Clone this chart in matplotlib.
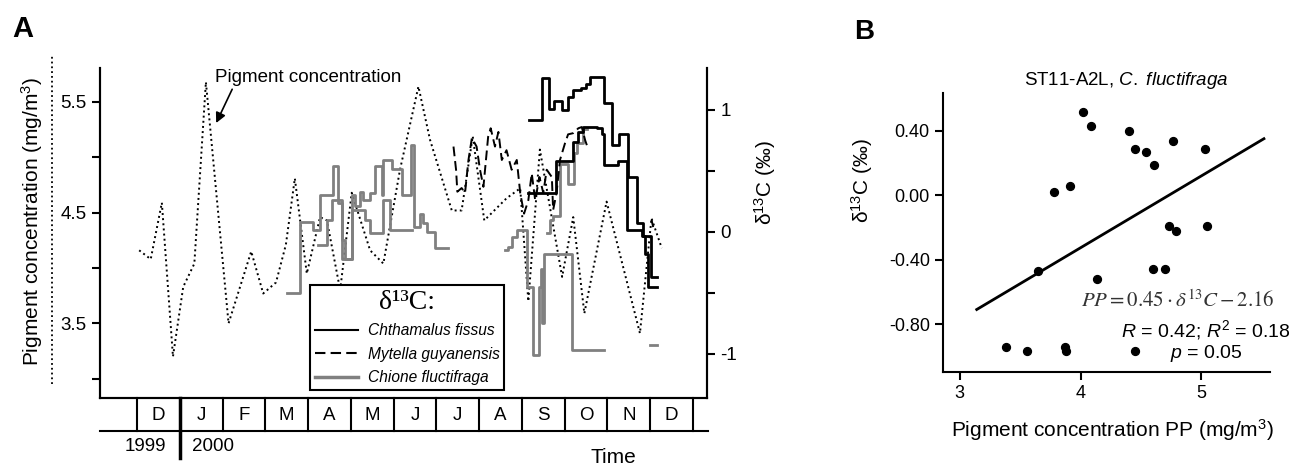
import numpy as np
import matplotlib.pyplot as plt
from matplotlib.lines import Line2D

plt.rcParams['font.family'] = ['Liberation Sans', 'DejaVu Sans']
plt.rcParams['mathtext.fontset'] = 'custom'
plt.rcParams['mathtext.rm'] = 'Liberation Sans'
plt.rcParams['mathtext.it'] = 'Liberation Sans:italic'

# ---- Panel A data (x = months since 1 Dec 1999) ----
months = ['D', 'J', 'F', 'M', 'A', 'M', 'J', 'J', 'A', 'S', 'O', 'N', 'D']
years = ['1999', '2000']

pig_t = [0.05, 0.32, 0.58, 0.84, 1.08, 1.34, 1.61, 2.14, 2.67, 2.95, 3.25, 3.48, 3.69,
         3.97, 4.28, 4.44, 4.75, 5.02, 5.45, 5.76, 6.15, 6.58, 6.85, 7.36, 7.59, 7.85,
         8.12, 8.64, 8.96, 9.15, 9.42, 9.94, 10.20, 10.46, 10.98, 11.76, 12.03, 12.27]
pig_v = [4.16, 4.08, 4.59, 3.20, 3.83, 4.04, 5.68, 3.50, 4.15, 3.77, 3.87, 4.21, 4.81,
         3.95, 4.46, 4.43, 3.80, 4.68, 4.16, 4.04, 4.89, 5.64, 5.16, 4.52, 4.52, 5.19,
         4.43, 4.63, 4.72, 3.70, 5.07, 3.92, 4.46, 3.59, 4.60, 3.41, 4.45, 4.18]

# Chthamalus fissus (two records)
cht1_t = [9.17, 9.46, 9.63, 9.74, 9.93, 10.08, 10.20, 10.37, 10.51, 10.59, 10.93,
          11.11, 11.27, 11.47, 11.70, 11.84, 12.01, 12.15]
cht1_v = [0.92, 1.26, 1.01, 1.07, 1.00, 1.11, 1.16, 1.18, 1.21, 1.27, 1.06,
          0.71, 0.80, 0.45, 0.07, -0.03, -0.37, -0.37]
cht2_t = [9.15, 9.80, 10.20, 10.32, 10.43, 10.75, 10.87, 10.93, 11.25, 11.46, 11.80,
          11.88, 11.96, 12.15]
cht2_v = [0.32, 0.58, 0.74, 0.82, 0.86, 0.85, 0.80, 0.55, 0.58, 0.02, -0.03,
          -0.18, -0.45, -0.45]

# Mytella guyanensis
myt_t = [7.40, 7.46, 7.49, 7.59, 7.67, 7.75, 7.83, 7.94, 8.02, 8.10, 8.21, 8.27, 8.37,
         8.45, 8.53, 8.64, 8.76, 8.88, 8.96, 9.05, 9.15, 9.23, 9.31, 9.41, 9.50, 9.58,
         9.70, 9.73, 9.81, 9.89, 10.01, 10.08, 10.20, 10.32, 10.40, 10.48, 10.52,
         np.nan, 12.03, 12.07]
myt_v = [0.70, 0.51, 0.33, 0.36, 0.32, 0.59, 0.77, 0.70, 0.51, 0.37, 0.78, 0.85, 0.70,
         0.82, 0.59, 0.67, 0.51, 0.59, 0.32, 0.15, 0.26, 0.48, 0.26, 0.45, 0.32, 0.51,
         0.45, 0.18, 0.32, 0.59, 0.73, 0.80, 0.81, 0.85, 0.86, 0.75, 0.71,
         np.nan, 0.10, 0.04]

# Chione fluctifraga (several records)
chi1_t = [3.50, 3.81, 4.12, 4.28, 4.59, 4.71, 4.79, 5.02, 5.10, 5.21, 5.29, 5.45, 5.57,
          5.72, 5.76, 5.96, 6.19, 6.40, 6.48, 6.62, 6.69, 6.77, 6.97, 7.28]
chi1_v = [-0.50, 0.08, 0.02, 0.30, 0.54, 0.24, -0.22, 0.30, 0.21, 0.33, 0.26, 0.32, 0.54,
          0.30, 0.59, 0.52, 0.30, 0.71, 0.04, 0.15, 0.07, 0.00, -0.13, -0.13]
chi2_t = [4.24, 4.44, 4.55, 4.79, 4.86, 5.02, 5.33, 5.45, 5.76, 5.92, 6.42]
chi2_v = [-0.11, 0.10, 0.26, -0.07, -0.22, 0.18, 0.10, -0.01, 0.26, 0.02, 0.02]
chi3_t = [8.60, 8.68, 8.76, 8.88, 9.13, 9.27, 9.41, 9.44, 9.48, 9.52, 10.16, 10.92,
          np.nan, 12.00, 12.15]
chi3_v = [-0.15, -0.12, -0.04, 0.02, -0.45, -1.01, -0.45, -0.30, -0.75, -0.18, -0.97, -0.97,
          np.nan, -0.93, -0.93]
chi4_t = [9.58, 9.66, 9.73, 9.89, 10.08, 10.22, 10.28, 10.44, 10.52]
chi4_v = [-0.01, 0.10, 0.13, 0.56, 0.39, 0.65, 0.73, 0.84, 0.84]

# ---- Panel B data ----
pp = [4.02, 4.09, 3.78, 3.91, 4.40, 4.45, 4.54, 4.61, 4.77, 5.03, 4.73, 4.79, 5.05,
      3.65, 4.14, 4.60, 4.70, 3.38, 3.56, 3.87, 3.88, 4.45]
d13 = [0.52, 0.43, 0.02, 0.06, 0.40, 0.29, 0.27, 0.19, 0.34, 0.29, -0.19, -0.22, -0.19,
       -0.47, -0.52, -0.46, -0.46, -0.94, -0.97, -0.94, -0.97, -0.97]
fit_slope = 0.446
fit_intercept = -2.11
fit_x = np.array([3.14, 5.52])

fig = plt.figure(figsize=(12.91, 4.68), dpi=100)

# ================= Panel A =================
ax = fig.add_axes([0.0775, 0.1496, 0.4702, 0.7051])
ax2 = ax.twinx()

ax.plot(pig_t, pig_v, color='black', linestyle=':', linewidth=1.4)
ax.set_xlim(-0.865, 13.33)
ax.set_ylim(2.826, 5.807)
ax.set_yticks([3.0, 3.5, 4.0, 4.5, 5.0, 5.5])
ax.set_yticklabels(['', '3.5', '', '4.5', '', '5.5'])
ax.set_xticks([])
ax.spines['top'].set_visible(False)
for s in ['left', 'bottom', 'right']:
    ax.spines[s].set_linewidth(1.5)
ax.tick_params(axis='y', labelsize=13.5, width=1.5, length=6)

ax2.plot(chi1_t, chi1_v, color='#808080', linewidth=2, drawstyle='steps-post')
ax2.plot(chi2_t, chi2_v, color='#808080', linewidth=2, drawstyle='steps-post')
ax2.plot(chi3_t, chi3_v, color='#808080', linewidth=2, drawstyle='steps-post')
ax2.plot(chi4_t, chi4_v, color='#808080', linewidth=2, drawstyle='steps-post')
ax2.plot(myt_t, myt_v, color='black', linewidth=1.4, dashes=(5, 2.5))
ax2.plot(cht1_t, cht1_v, color='black', linewidth=2, drawstyle='steps-post')
ax2.plot(cht2_t, cht2_v, color='black', linewidth=2, drawstyle='steps-post')
ax2.set_ylim(-1.361, 1.344)
ax2.set_yticks([-1, -0.5, 0, 0.5, 1])
ax2.set_yticklabels(['-1', '', '0', '', '1'])
ax2.spines['top'].set_visible(False)
for s in ['left', 'bottom', 'right']:
    ax2.spines[s].set_linewidth(1.5)
ax2.tick_params(axis='y', labelsize=13.5, width=1.5, length=6)

# axis labels
ax.text(-0.112, 0.536, 'Pigment concentration (mg/m$^3$)', transform=ax.transAxes,
        rotation=90, ha='center', va='center', fontsize=15)
ax.plot([-0.079, -0.079], [0.042, 1.039], transform=ax.transAxes, clip_on=False,
        color='black', linestyle=':', linewidth=1.3)
ax2.text(1.096, 0.652, 'δ$^{13}$C (‰)', transform=ax2.transAxes, rotation=90,
         ha='center', va='center', fontsize=15)

# annotation
ax.annotate('Pigment concentration', xy=(1.85, 5.31), xytext=(1.82, 5.717),
            ha='left', va='center', fontsize=13.5,
            arrowprops=dict(arrowstyle='-|>', color='black', lw=1.2,
                            shrinkA=0, shrinkB=0, mutation_scale=15,
                            relpos=(0.1, 0.0)))

# month table below axis
trans = ax.get_xaxis_transform()
for k in range(len(months) + 1):
    lw = 2.5 if k == 1 else 1.5
    y_end = -0.182 if k == 1 else -0.1
    ax.plot([k, k], [0, y_end], transform=trans, clip_on=False, color='black', linewidth=lw)
for k, m in enumerate(months):
    ax.text(k + 0.5, -0.052, m, transform=trans, ha='center', va='center', fontsize=13.5)
ax.plot([-0.865, 13.35], [-0.1, -0.1], transform=trans, clip_on=False, color='black',
        linewidth=1.5)
ax.text(0.19, -0.148, years[0], transform=trans, ha='center', va='center', fontsize=13.5)
ax.text(1.78, -0.148, years[1], transform=trans, ha='center', va='center', fontsize=13.5)
ax.text(11.13, -0.18, 'Time', transform=trans, ha='center', va='center', fontsize=15)

# legend
handles = [Line2D([], [], color='black', linewidth=1.5),
           Line2D([], [], color='black', linewidth=1.5, dashes=(5, 2.5)),
           Line2D([], [], color='#808080', linewidth=2.5)]
leg = ax2.legend(handles, ['Chthamalus fissus', 'Mytella guyanensis', 'Chione fluctifraga'],
                 loc='lower left', bbox_to_anchor=(0.346, 0.024), borderaxespad=0,
                 fancybox=False, edgecolor='black', framealpha=1, borderpad=0.3,
                 labelspacing=0.55, handlelength=2.8, handletextpad=0.6,
                 prop={'style': 'italic', 'size': 11.2},
                 title='δ¹³C:', title_fontproperties={'family': 'Liberation Serif', 'size': 20})
leg.get_frame().set_linewidth(1.5)

fig.text(0.018, 0.939, 'A', fontsize=21, fontweight='bold', ha='center', va='center')

# ================= Panel B =================
bx = fig.add_axes([0.7304, 0.2051, 0.2533, 0.5962])
bx.scatter(pp, d13, s=32, color='black', zorder=3)
bx.plot(fit_x, fit_slope * fit_x + fit_intercept, color='black', linewidth=2)
bx.set_xlim(2.86, 5.57)
bx.set_ylim(-1.098, 0.636)
bx.set_xticks([3, 4, 5])
bx.set_yticks([-0.8, -0.4, 0.0, 0.4])
bx.set_yticklabels(['-0.80', '-0.40', '0.00', '0.40'])
bx.spines['top'].set_visible(False)
bx.spines['right'].set_visible(False)
bx.spines['left'].set_linewidth(1.5)
bx.spines['bottom'].set_linewidth(1.5)
bx.tick_params(labelsize=13, width=1.5, length=6)

bx.text(0.56, 1.043, 'ST11-A2L, $\\it{C.\\ fluctifraga}$', transform=bx.transAxes,
        ha='center', va='center', fontsize=13.5)
bx.text(-0.248, 0.688, 'δ$^{13}$C (‰)', transform=bx.transAxes, rotation=90,
        ha='center', va='center', fontsize=15)
bx.text(0.517, -0.208, 'Pigment concentration PP (mg/m$^3$)', transform=bx.transAxes,
        ha='center', va='center', fontsize=15)
bx.text(0.719, 0.258, r'$PP = 0.45\cdot\delta^{13}C - 2.16$', transform=bx.transAxes,
        ha='center', va='center', fontsize=15, math_fontfamily='stix', color='#333333')
bx.text(0.804, 0.151, '$R$ = 0.42; $R^2$ = 0.18', transform=bx.transAxes,
        ha='center', va='center', fontsize=14)
bx.text(0.804, 0.068, '$p$ = 0.05', transform=bx.transAxes,
        ha='center', va='center', fontsize=14)

fig.text(0.669, 0.932, 'B', fontsize=20, fontweight='bold', ha='center', va='center')

plt.savefig('out.png', dpi=100)
